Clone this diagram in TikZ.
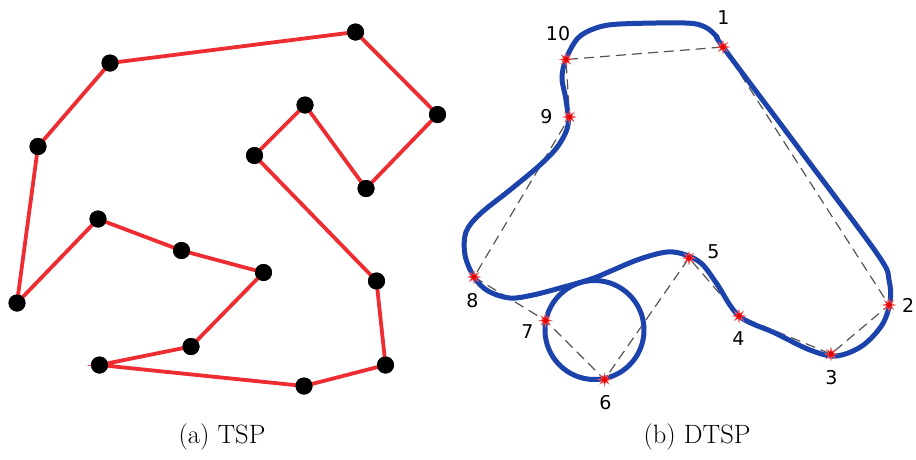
\documentclass[tikz,border=0pt]{standalone}
\usepackage{fontspec}
\newfontfamily\lblfont{DejaVu Sans}
\usetikzlibrary{shapes.geometric}
\definecolor{tspred}{RGB}{238,45,50}
\definecolor{dblue}{RGB}{28,66,172}
\definecolor{dgray}{RGB}{85,85,85}
\tikzset{
  city/.style={circle,fill=black,minimum size=17pt,inner sep=0pt},
  tour/.style={draw=tspred,line width=3.8pt},
  wpt/.style={star,star points=8,star point ratio=2.6,fill=red!90!black,draw=red!60,line width=0.4pt,minimum size=13pt,inner sep=0pt},
  dashedge/.style={draw=dgray,line width=1.2pt,dash pattern=on 10pt off 6pt},
  dubins/.style={draw=dblue,line width=5pt,line cap=round,line join=round},
  numlbl/.style={inner sep=0pt,font=\lblfont\fontsize{19}{22}\selectfont},
  caption/.style={inner sep=0pt,font=\fontsize{26.5}{30}\selectfont}
}
\begin{document}
\begin{tikzpicture}[x=1pt,y=-1pt]
\useasboundingbox (0,0) rectangle (916,459);
\fill[white] (0,0) rectangle (916,459);
% ---------- (a) TSP ----------
\node[city] (a) at (355.5,32) {};
\node[city] (b) at (110,63) {};
\node[city] (c) at (38,146.5) {};
\node[city] (d) at (17,303) {};
\node[city] (e) at (98,219) {};
\node[city] (f) at (181.5,250.5) {};
\node[city] (g) at (263.5,272.5) {};
\node[city] (h) at (191,346.5) {};
\node[city] (i) at (99.5,365) {};
\node[city] (j) at (304,386) {};
\node[city] (k) at (385.5,365) {};
\node[city] (l) at (376.5,281) {};
\node[city] (m) at (254.5,155.5) {};
\node[city] (n) at (305,105) {};
\node[city] (o) at (366,188.5) {};
\node[city] (p) at (437.5,114.5) {};
\draw[tour] (a.center) -- (b.center) -- (c.center) -- (d.center) -- (e.center) -- (f.center)
  -- (g.center) -- (h.center) -- (i.center) -- (j.center) -- (k.center) -- (l.center)
  -- (m.center) -- (n.center) -- (o.center) -- (p.center) -- cycle;
\foreach \v in {a,b,c,d,e,f,g,h,i,j,k,l,m,n,o,p} \node[city] at (\v) {};
\node[caption] (capa) at (222,436.5) {(a) TSP};
% ---------- (b) DTSP ----------
\coordinate (w1) at (723,47);
\coordinate (w2) at (889,305);
\coordinate (w3) at (831,354);
\coordinate (w4) at (739,316);
\coordinate (w5) at (689,258);
\coordinate (w6) at (604.5,379.5);
\coordinate (w7) at (545.5,320.5);
\coordinate (w8) at (474,277);
\coordinate (w9) at (569.5,117);
\coordinate (w10) at (566,59.5);
\draw[dashedge] (w1) -- (w2) -- (w3) -- (w4) -- (w5) -- (w6) -- (w7) -- (w8) -- (w9) -- (w10) -- cycle;
\draw[dubins] plot[smooth cycle,tension=0.55] coordinates {
  (723,47) (800,150) (878,255) (889,280) (890,302) (882,325) (862,346) (836,356)
  (810,350) (775,333) (739,316) (717,284) (702,264) (686,255) (667,252) (637,260)
  (594,278) (560,288) (533,295) (510,298) (488,291) (474,277) (465,255) (466,232)
  (480,214) (510,190) (540,165) (558,146) (568,125) (566,100) (562,78) (566,59)
  (578,38) (596,28) (620,24) (685,23) (705,27) (717,37)};
\draw[dubins] (594.5,330) circle[radius=49.5];
\foreach \k in {1,...,10} \node[wpt] (m\k) at (w\k) {};
\node[numlbl] (l1) at (723.5,17.5) {1};
\node[numlbl,anchor=west] (l2) at (902,305) {2};
\node[numlbl] (l3) at (831.5,378) {3};
\node[numlbl] (l4) at (738.5,339) {4};
\node[numlbl] (l5) at (713.5,252) {5};
\node[numlbl] (l6) at (605.5,403) {6};
\node[numlbl] (l7) at (527.5,332) {7};
\node[numlbl] (l8) at (472.5,301) {8};
\node[numlbl] (l9) at (546.5,117) {9};
\node[numlbl] (l10) at (558,34) {10};
\node[caption] (capb) at (697,436.5) {(b) DTSP};
\end{tikzpicture}
\end{document}
